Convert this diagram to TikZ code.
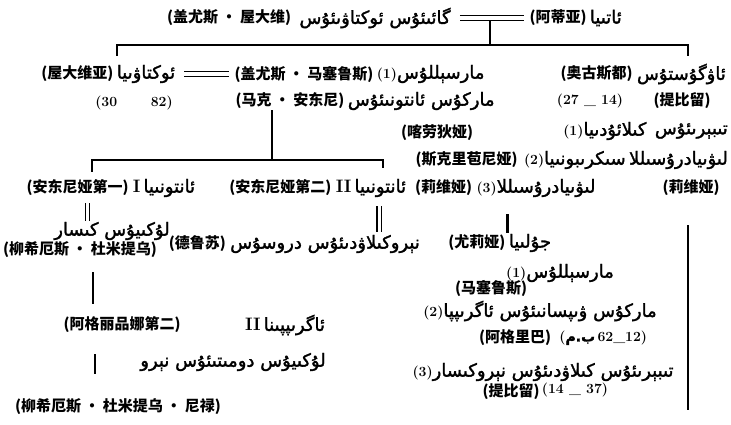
\documentclass[tikz,border=0pt]{standalone}
\usepackage{fontspec}
\usetikzlibrary{positioning}
\TeXXeTstate=1
\newfontfamily\ugfont[Script=Arabic,FakeBold=1.6]{DejaVu Sans}
\newfontfamily\zhfont{Noto Sans CJK SC}
\newcommand{\ug}[1]{{\ugfont\beginR #1\endR}}
\newcommand{\nr}[1]{{\bfseries\fontsize{14}{14}\selectfont(#1)}}
\newcommand{\rn}[1]{{\rmfamily\bfseries #1}\,}
\tikzstyle{uy} = [inner sep=1pt, font=\fontsize{18}{18}\selectfont]
\tikzstyle{zh} = [inner sep=1pt, font=\zhfont\bfseries\fontsize{15}{15}\selectfont]
\tikzstyle{num} = [inner sep=1pt, font=\bfseries\fontsize{14}{14}\selectfont]
\tikzstyle{line} = [line width=2.5pt]
\tikzstyle{wed} = [double, double distance=4pt, line width=1.4pt, shorten <=8pt, shorten >=4pt]
\tikzstyle{wedv} = [double, double distance=3pt, line width=1.4pt, shorten <=8pt, shorten >=2pt]

\begin{document}
\begin{tikzpicture}[x=1pt, y=-1pt]
\useasboundingbox (0,0) rectangle (731,425);
\coordinate (br1) at (0,45);
\coordinate (br2) at (0,160);
% Gaius Octavius and Atia
\node (ugaius) [uy] at (375,18) {\ug{گائىئۇس ئوكتاۋىئۇس}};
\node (zgaius) [zh, left=6pt of ugaius] {(盖尤斯 · 屋大维)};
\node (zatia) [zh] at (558,18) {(阿蒂亚)};
\node (uatia) [uy, right=1pt of zatia] {\ug{ئاتىيا}};
\path (ugaius) -- coordinate[midway] (m1) (zatia);
\draw [line] (m1) -- (m1 |- br1);
\draw [wed] (ugaius) -- (zatia);
\coordinate (t1) at (117,56);
\coordinate (t2) at (688,56);
\draw [line] (t1) -- (t1 |- br1) -| (t2);
% Octavia, Augustus
\node (uoctavia) [uy] at (146,74) {\ug{ئوكتاۋىيا}};
\node (zoctavia) [zh, left=1pt of uoctavia] {(屋大维亚)};
\node (zmarc) [zh] at (304,74) {(盖尤斯 · 马塞鲁斯)};
\node (umarc) [uy, right=1pt of zmarc] {\nr{1}\ug{مارسېللۇس}};
\draw [wed] (uoctavia) -- (zmarc);
\node (uaug) [uy, anchor=east] at (727,74) {\ug{ئاۋگۇستۇس}};
\node (zaug) [zh, left=2pt of uaug] {(奥古斯都)};
\node (doct) [num] at (134,103) {(30\hspace{2.4em}82)};
\node (zanton) [zh] at (290,101) {(马克 · 安东尼)};
\node (uanton) [uy, right=1pt of zanton] {\ug{ماركۇس ئانتونىئۇس}};
\node (daug) [num] at (590,101) {(27 \_ 14)};
\node (ztib) [zh] at (682,101) {(提比留)};
% wives of Augustus
\node (utib) [uy, anchor=east] at (729,131) {\ug{تىبېرىئۇس}};
\node (uclaud) [uy, left=6pt of utib] {\nr{1}\ug{كىلائۇدىيا}};
\node (zclaud) [zh] at (437,133) {(喀劳狄娅)};
\node (ulivia0) [uy, anchor=east] at (729,160) {\ug{لىۋىيادرۇسىللا}};
\node (uscrib) [uy, left=1pt of ulivia0] {\nr{2}\ug{سىكرىبونىيا}};
\node (zscrib) [zh, left=4pt of uscrib] {(斯克里苞尼娅)};
% daughters of Antony
\coordinate (s2) at ([xshift=-18pt]zanton.south);
\coordinate (t3) at (92,172);
\coordinate (t4) at (383,168);
\draw [line] (s2) -- (s2 |- br2);
\draw [line] (t3) -- (t3 |- br2) -| (t4);
\node (uant1) [uy] at (164,188) {\rn{I}\ug{ئانتونىيا}};
\node (zant1) [zh, left=2pt of uant1] {(安东尼娅第一)};
\node (uant2) [uy] at (371,188) {\rn{II}\ug{ئانتونىيا}};
\node (zant2) [zh, left=2pt of uant2] {(安东尼娅第二)};
\node (ulivia) [uy] at (536,188) {\nr{3}\ug{لىۋىيادرۇسىللا}};
\node (zlivia) [zh, left=2pt of ulivia] {(莉维娅)};
\node (zlivia2) [zh] at (691,188) {(莉维娅)};
% next generation
\node (ulucius) [uy] at (112,231) {\ug{لۇكىيۇس كىسار}};
\node (zlucius) [zh] at (80,250) {(柳希厄斯 · 杜米提乌)};
\draw [wedv, shorten <=6pt, shorten >=0pt] ([xshift=10pt]zant1.south) -- ([xshift=10pt]zant1.south |- ulucius.north);
\node (udrusus) [uy] at (325,244) {\ug{نېروكىلاۋدىئۇس دروسۇس}};
\node (zdrusus) [zh, left=2pt of udrusus] {(德鲁苏)};
\draw [wedv] ([xshift=8pt]uant2.south) -- ([xshift=8pt]uant2.south |- udrusus.north);
\node (ujulia) [uy] at (530,243) {\ug{جۇلىيا}};
\node (zjulia) [zh, left=1pt of ujulia] {(尤莉娅)};
\draw [line, shorten <=16pt] (ulivia.south -| ujulia.west) -- (ujulia.north west);
\coordinate (r1) at (688,225);
\coordinate (r2) at (688,410);
\draw [line] (r1) -- (r2);
% husbands of Julia
\node (umarc2) [uy] at (560,273) {\nr{1}\ug{مارسېللۇس}};
\node (zmarc2) [zh] at (491,288) {(马塞鲁斯)};
\node (uagrippa) [uy] at (540,311) {\nr{2}\ug{ماركۇس ۋىپسانىئۇس ئاگرىپپا}};
\node (zagrippa) [zh] at (515,338) {(阿格里巴)};
\node (dagrippa) [num, right=6pt of zagrippa] {(\ug{ب.م}\,62\_12)};
\node (utib2) [uy] at (543,372) {\nr{3}\ug{تىبېرىئۇس كىلاۋدىئۇس نېروكىسار}};
\node (ztib2) [zh] at (511,392) {(提比留)};
\node (dtib2) [num, right=0pt of ztib2, yshift=2pt] {(14 \_ 37)};
% Nero
\node (zagri2) [zh] at (122,325) {(阿格丽品娜第二)};
\node (uagri2) [uy] at (285,325) {\rn{II}\ug{ئاگرىپپىنا}};
\node (udomit) [uy] at (233,362) {\ug{لۇكىيۇس دومىتىئۇس نېرو}};
\node (znero) [zh] at (118,407) {(柳希厄斯 · 杜米提乌 · 尼禄)};
\draw [line, shorten <=13pt, shorten >=12pt] ([xshift=13pt]zlucius.south) -- ([xshift=13pt]zlucius.south |- zagri2.north);
\draw [line, shorten <=20pt, shorten >=24pt] ([xshift=-27pt]zagri2.south) -- ([xshift=-27pt]zagri2.south |- znero.north);
\end{tikzpicture}
\end{document}
